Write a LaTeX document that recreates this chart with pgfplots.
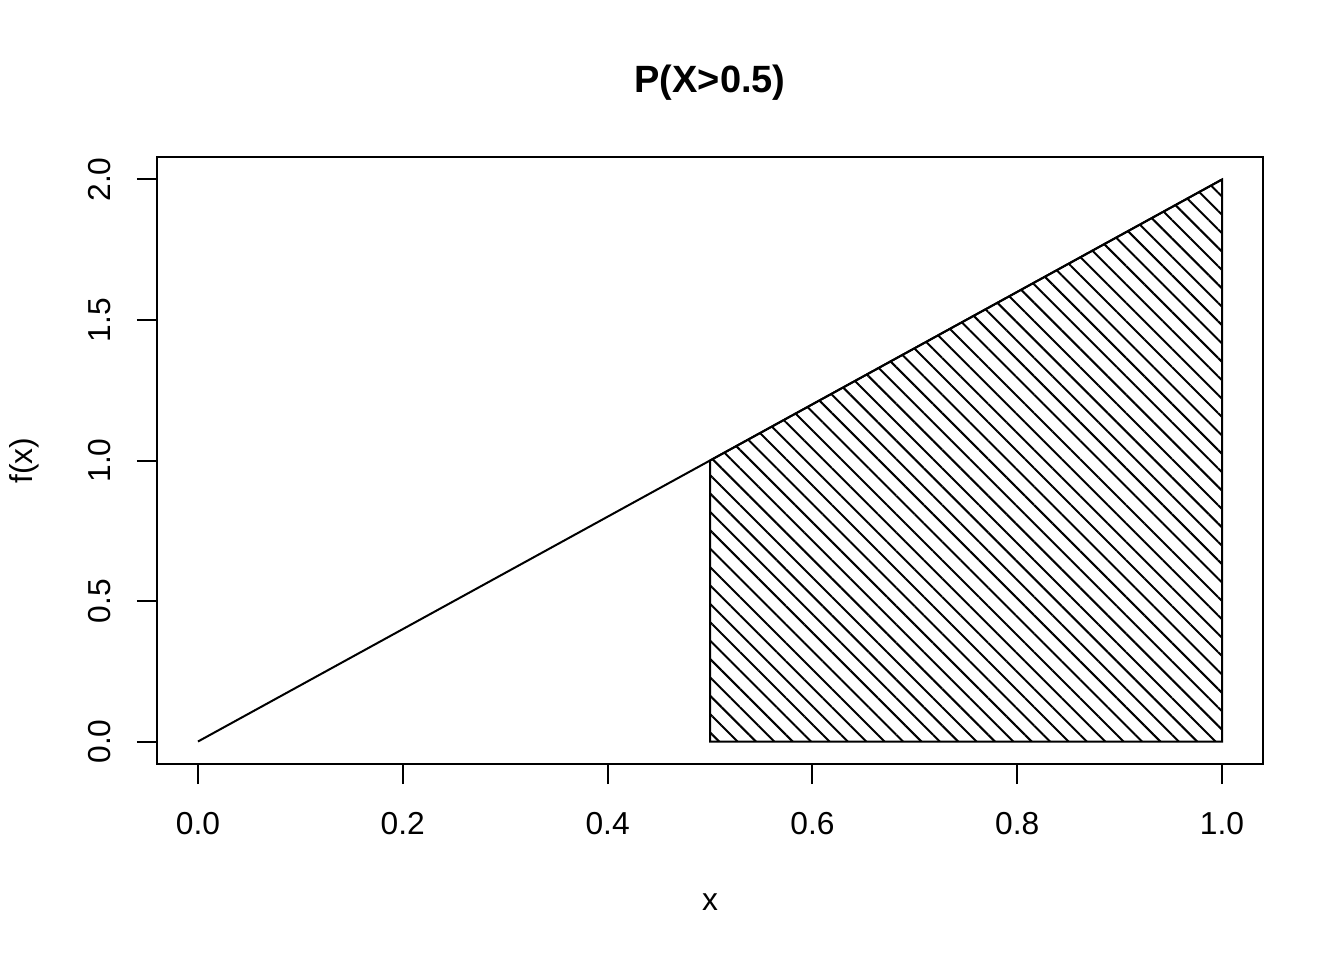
\documentclass[border=0pt]{standalone}
\usepackage{fontspec}
\setmainfont{Liberation Sans}
\usepackage{pgfplots}
\pgfplotsset{compat=1.18}
\usetikzlibrary{patterns.meta}
\begin{document}
\begin{tikzpicture}
\useasboundingbox (0pt,0pt) rectangle (537.6pt,384pt);
\begin{axis}[
  at={(62.8pt,78.4pt)}, anchor=south west,
  scale only axis, width=442.4pt, height=242.8pt,
  xmin=-0.04, xmax=1.04, ymin=-0.08, ymax=2.08,
  xtick={0,0.2,0.4,0.6,0.8,1.0},
  ytick={0,0.5,1.0,1.5,2.0},
  xtick pos=lower, ytick pos=left,
  tick align=outside, major tick length=8pt,
  tick style={black, line width=0.8pt},
  axis line style={line width=0.8pt},
  /pgf/number format/fixed, /pgf/number format/fixed zerofill,
  /pgf/number format/precision=1, /pgf/number format/assume math mode=true,
  font=\fontsize{12.7}{15}\selectfont,
  xticklabel style={yshift=-7.6pt},
  yticklabel style={rotate=90, anchor=south, yshift=7pt},
  clip=false,
]
\addplot[black, line width=0.8pt] coordinates {(0,0) (1,2)};
\addplot[draw=black, line width=0.8pt, line join=miter,
  pattern={Lines[angle=-45, distance=5.2pt, line width=0.8pt]}]
  coordinates {(0.5,0) (0.5,1) (1,2) (1,0) (0.5,0)} -- cycle;
\node[font=\fontsize{15.2}{18}\selectfont\bfseries] at ([yshift=29.8pt]rel axis cs:0.5,1) {P(X>0.5)};
\node at ([yshift=-55.2pt]rel axis cs:0.5,0) {x};
\node[rotate=90] at ([xshift=-53pt]rel axis cs:0,0.5) {f(x)};
\end{axis}
\end{tikzpicture}
\end{document}
